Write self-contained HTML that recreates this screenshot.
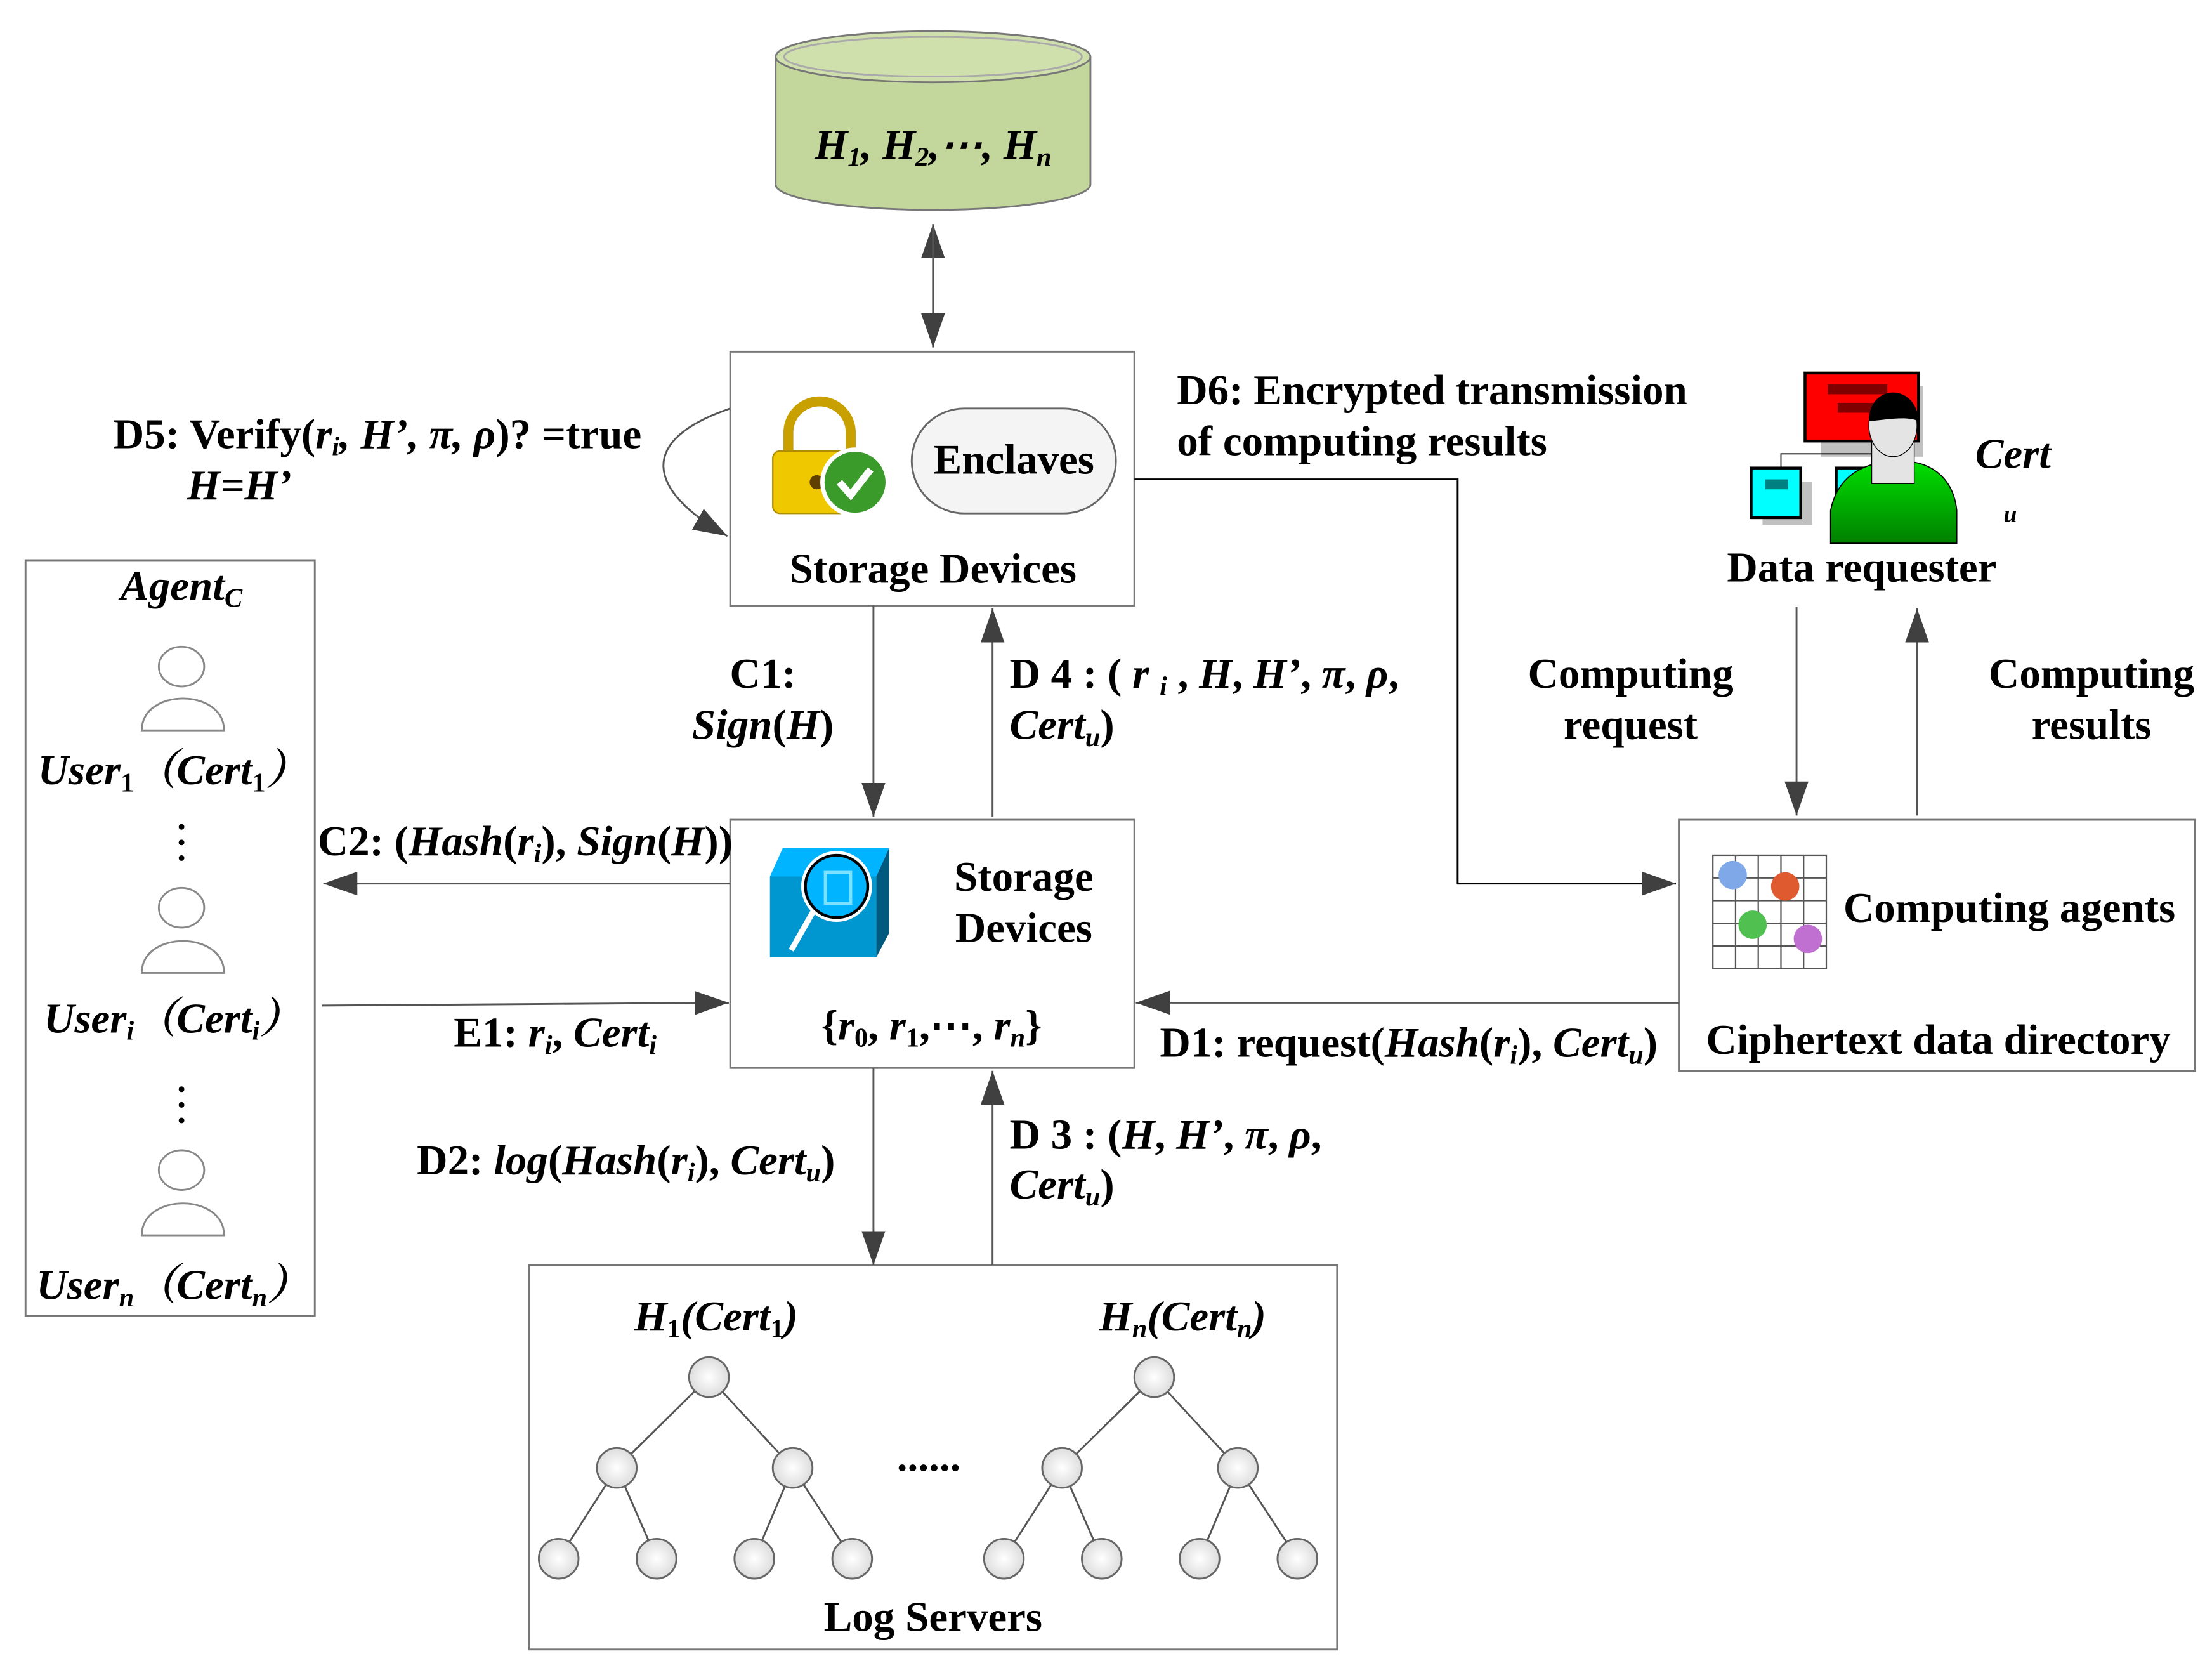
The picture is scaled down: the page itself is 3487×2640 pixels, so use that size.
<!DOCTYPE html>
<html><head><meta charset="utf-8"><style>html,body{margin:0;padding:0;background:#fff}svg{display:block}</style></head><body>
<svg width="3487" height="2640" viewBox="0 0 1560 1181" preserveAspectRatio="none" xmlns="http://www.w3.org/2000/svg" font-family="Liberation Serif, serif" font-weight="bold" font-size="30">
<defs>
<marker id="a" viewBox="0 0 10 10" refX="10" refY="5" markerWidth="24" markerHeight="24" markerUnits="userSpaceOnUse" orient="auto"><path d="M0,1.5 L10,5 L0,8.5 Z" fill="#404040"/></marker>
<linearGradient id="g" x1="0" y1="0" x2="0" y2="1"><stop offset="0" stop-color="#00e000"/><stop offset="1" stop-color="#008000"/></linearGradient>
<radialGradient id="cb"><stop offset="0" stop-color="#fff"/><stop offset="1" stop-color="#ddd"/></radialGradient>
</defs>
<g stroke="#555" stroke-width="1.3" fill="none">
<path d="M547,40 L547,130 A111,18 0 0 0 769,130 L769,40" fill="#c3d69b" stroke="#777"/>
<ellipse cx="658" cy="40" rx="111" ry="18" fill="#d0e0ad" stroke="#777"/>
<ellipse cx="658" cy="40" rx="105" ry="14" fill="none" stroke="#aaa"/>
<line x1="658" y1="165" x2="658" y2="158" marker-end="url(#a)"/>
<path d="M658,160 L658,245" marker-end="url(#a)"/>
<rect x="515" y="248" width="285" height="179" fill="#fff" stroke="#777"/>
<rect x="515" y="578" width="285" height="175" fill="#fff" stroke="#777"/>
<rect x="1184" y="578" width="364" height="177" fill="#fff" stroke="#777"/>
<rect x="18" y="395" width="204" height="533" fill="#fff" stroke="#777"/>
<rect x="373" y="892" width="570" height="271" fill="#fff" stroke="#777"/>
<path d="M515,288 C450,310 455,345 513,378" marker-end="url(#a)"/>
<path d="M800,338 L1028,338 L1028,623 L1182,623" stroke="#000" marker-end="url(#a)"/>
<path d="M1267,428 L1267,575" marker-end="url(#a)"/>
<path d="M1352,575 L1352,429" marker-end="url(#a)"/>
<path d="M616,427 L616,576" marker-end="url(#a)"/>
<path d="M700,576 L700,429" marker-end="url(#a)"/>
<path d="M515,623 L228,623" marker-end="url(#a)"/>
<path d="M227,709 L514,707" marker-end="url(#a)"/>
<path d="M1184,707 L801,707" marker-end="url(#a)"/>
<path d="M616,753 L616,892" marker-end="url(#a)"/>
<path d="M700,892 L700,755" marker-end="url(#a)"/>
<path d="M500,971 L435,1035 M500,971 L559,1035 M435,1035 L394,1099 M435,1035 L463,1099 M559,1035 L532,1099 M559,1035 L601,1099"/>
<path d="M814,971 L749,1035 M814,971 L873,1035 M749,1035 L708,1099 M749,1035 L777,1099 M873,1035 L846,1099 M873,1035 L915,1099"/>
<g fill="url(#cb)" stroke="#666">
<circle cx="500" cy="971" r="14"/><circle cx="435" cy="1035" r="14"/><circle cx="559" cy="1035" r="14"/>
<circle cx="394" cy="1099" r="14"/><circle cx="463" cy="1099" r="14"/><circle cx="532" cy="1099" r="14"/><circle cx="601" cy="1099" r="14"/>
<circle cx="814" cy="971" r="14"/><circle cx="749" cy="1035" r="14"/><circle cx="873" cy="1035" r="14"/>
<circle cx="708" cy="1099" r="14"/><circle cx="777" cy="1099" r="14"/><circle cx="846" cy="1099" r="14"/><circle cx="915" cy="1099" r="14"/>
</g>
<rect x="643" y="288" width="144" height="74" rx="37" fill="#f4f4f4" stroke="#666"/>
</g>
<path d="M556,320 L556,305 A22,22 0 0 1 600,305 L600,320" fill="none" stroke="#c8a000" stroke-width="7"/>
<rect x="545" y="318" width="66" height="44" rx="5" fill="#f0c800" stroke="#b08c00"/>
<circle cx="576" cy="340" r="5" fill="#604000"/>
<circle cx="603" cy="340" r="23" fill="#3a9a2a" stroke="#fff" stroke-width="3"/>
<path d="M592,340 L600,349 L614,331" stroke="#fff" stroke-width="5" fill="none"/>
<path d="M543,618 L552,598 L627,598 L618,618 Z" fill="#00b4ff"/>
<path d="M618,618 L627,598 L627,658 L618,675 Z" fill="#005a80"/>
<rect x="543" y="618" width="75" height="57" fill="#0096d0"/>
<line x1="558" y1="670" x2="575" y2="640" stroke="#fff" stroke-width="4"/>
<circle cx="590" cy="625" r="22" fill="#00b4ff" stroke="#000" stroke-width="2"/>
<circle cx="590" cy="625" r="24" fill="none" stroke="#fff" stroke-width="2"/>
<rect x="582" y="615" width="18" height="22" fill="none" stroke="#7fe0ff" stroke-width="2"/>
<rect x="1208" y="603" width="80" height="80" fill="#fff" stroke="#555"/>
<path d="M1224,603V683M1240,603V683M1256,603V683M1272,603V683M1208,619H1288M1208,635H1288M1208,651H1288M1208,667H1288" stroke="#555" stroke-width="1"/>
<circle cx="1222" cy="617" r="10" fill="#7fa8e8"/><circle cx="1259" cy="625" r="10" fill="#e05a30"/>
<circle cx="1236" cy="652" r="10" fill="#50c050"/><circle cx="1275" cy="662" r="10" fill="#c070d0"/>
<rect x="1284" y="272" width="72" height="50" fill="#c0c0c0"/>
<rect x="1273" y="263" width="80" height="48" fill="#f00" stroke="#000" stroke-width="2"/>
<rect x="1289" y="271" width="42" height="7" fill="#800000"/><rect x="1296" y="284" width="30" height="7" fill="#800000"/>
<path d="M1335,311V320H1256V330" fill="none" stroke="#000" stroke-width="0.8"/>
<rect x="1243" y="340" width="35" height="30" fill="#c0c0c0"/>
<rect x="1235" y="330" width="35" height="35" fill="#0ff" stroke="#000" stroke-width="2"/>
<rect x="1245" y="338" width="16" height="7" fill="#008080"/>
<rect x="1295" y="330" width="20" height="30" fill="#0ff" stroke="#000" stroke-width="2"/>
<path d="M1291,383 L1291,360 C1296,335 1315,325 1340,325 C1365,325 1378,340 1380,360 L1380,383 Z" fill="url(#g)" stroke="#000" stroke-width="0.8"/>
<rect x="1320" y="303" width="30" height="38" fill="#e4e4e4" stroke="#000" stroke-width="0.6"/>
<ellipse cx="1335" cy="300" rx="17" ry="22" fill="#e4e4e4" stroke="#000" stroke-width="0.6"/>
<path d="M1318,297 C1318,270 1352,270 1353,297 C1345,293 1330,296 1318,297 Z" fill="#000"/>
<g fill="#fff" stroke="#888" stroke-width="1.3">
<path d="M100,515 C100,485 158,485 158,515 Z"/><ellipse cx="128" cy="470" rx="16" ry="14"/>
<path d="M100,686 C100,656 158,656 158,686 Z"/><ellipse cx="128" cy="640" rx="16" ry="14"/>
<path d="M100,871 C100,841 158,841 158,871 Z"/><ellipse cx="128" cy="825" rx="16" ry="14"/>
</g>
<g fill="#000">
<text x="658" y="112" text-anchor="middle" font-style="italic">H<tspan font-size="19" dy="5">1</tspan><tspan dy="-5">, H</tspan><tspan font-size="19" dy="5">2</tspan><tspan dy="-5">,⋯, H</tspan><tspan font-size="19" dy="5">n</tspan></text>
<text x="715" y="334" text-anchor="middle">Enclaves</text>
<text x="658" y="411" text-anchor="middle">Storage Devices</text>
<text x="80" y="316">D5: Verify(<tspan font-style="italic">r<tspan font-size="19" dy="5">i</tspan><tspan dy="-5">, H’, π, ρ</tspan></tspan>)?  =true</text>
<text x="132" y="352" font-style="italic">H=H’</text>
<text x="830" y="285">D6: Encrypted transmission</text>
<text x="830" y="321">of computing results</text>
<text x="1393" y="330" font-style="italic">Cert</text>
<text x="1413" y="368" font-style="italic" font-size="17">u</text>
<text x="1313" y="410" text-anchor="middle">Data requester</text>
<text x="1150" y="485" text-anchor="middle">Computing</text>
<text x="1150" y="521" text-anchor="middle">request</text>
<text x="1475" y="485" text-anchor="middle">Computing</text>
<text x="1475" y="521" text-anchor="middle">results</text>
<text x="1300" y="650">Computing agents</text>
<text x="1367" y="743" text-anchor="middle">Ciphertext data directory</text>
<text x="538" y="485" text-anchor="middle">C1:</text>
<text x="538" y="521" text-anchor="middle" font-style="italic">Sign<tspan font-style="normal">(</tspan>H<tspan font-style="normal">)</tspan></text>
<text x="712" y="485">D 4 :  ( <tspan font-style="italic">r <tspan font-size="19" dy="5">i</tspan></tspan><tspan dy="-5"> ,  <tspan font-style="italic">H</tspan>,  <tspan font-style="italic">H’</tspan>,  <tspan font-style="italic">π</tspan>,  <tspan font-style="italic">ρ</tspan>,</tspan></text>
<text x="712" y="521"><tspan font-style="italic">Cert</tspan><tspan font-style="italic" font-size="19" dy="5">u</tspan><tspan dy="-5">)</tspan></text>
<text x="722" y="628" text-anchor="middle">Storage</text>
<text x="722" y="664" text-anchor="middle">Devices</text>
<text x="657" y="733" text-anchor="middle">{<tspan font-style="italic">r</tspan><tspan font-size="19" dy="5">0</tspan><tspan dy="-5">, </tspan><tspan font-style="italic">r</tspan><tspan font-size="19" dy="5">1</tspan><tspan dy="-5">,⋯, </tspan><tspan font-style="italic">r</tspan><tspan font-size="19" font-style="italic" dy="5">n</tspan><tspan dy="-5">}</tspan></text>
<text x="224" y="603">C2: (<tspan font-style="italic">Hash</tspan>(<tspan font-style="italic">r</tspan><tspan font-size="19" font-style="italic" dy="5">i</tspan><tspan dy="-5">), </tspan><tspan font-style="italic">Sign</tspan>(<tspan font-style="italic">H</tspan>))</text>
<text x="320" y="738">E1: <tspan font-style="italic">r</tspan><tspan font-size="19" font-style="italic" dy="5">i</tspan><tspan dy="-5">, </tspan><tspan font-style="italic">Cert</tspan><tspan font-size="19" font-style="italic" dy="5">i</tspan></text>
<text x="818" y="745">D1: request(<tspan font-style="italic">Hash</tspan>(<tspan font-style="italic">r</tspan><tspan font-size="19" font-style="italic" dy="5">i</tspan><tspan dy="-5">), </tspan><tspan font-style="italic">Cert</tspan><tspan font-size="19" font-style="italic" dy="5">u</tspan><tspan dy="-5">)</tspan></text>
<text x="294" y="828">D2: <tspan font-style="italic">log</tspan>(<tspan font-style="italic">Hash</tspan>(<tspan font-style="italic">r</tspan><tspan font-size="19" font-style="italic" dy="5">i</tspan><tspan dy="-5">), </tspan><tspan font-style="italic">Cert</tspan><tspan font-size="19" font-style="italic" dy="5">u</tspan><tspan dy="-5">)</tspan></text>
<text x="712" y="810">D 3 :   (<tspan font-style="italic">H</tspan>,  <tspan font-style="italic">H’</tspan>,  <tspan font-style="italic">π</tspan>,  <tspan font-style="italic">ρ</tspan>,</text>
<text x="712" y="845"><tspan font-style="italic">Cert</tspan><tspan font-style="italic" font-size="19" dy="5">u</tspan><tspan dy="-5">)</tspan></text>
<text x="128" y="423" text-anchor="middle" font-style="italic">Agent<tspan font-size="19" dy="5">C</tspan></text>
<text x="122" y="553" text-anchor="middle" font-style="italic">User<tspan font-size="19" font-style="normal" dy="5">1</tspan><tspan dy="-5" font-family="Noto Serif CJK SC, serif">（</tspan>Cert<tspan font-size="19" font-style="normal" dy="5">1</tspan><tspan dy="-5" font-family="Noto Serif CJK SC, serif">）</tspan></text>
<text x="122" y="728" text-anchor="middle" font-style="italic">User<tspan font-size="19" dy="5">i</tspan><tspan dy="-5" font-family="Noto Serif CJK SC, serif">（</tspan>Cert<tspan font-size="19" dy="5">i</tspan><tspan dy="-5" font-family="Noto Serif CJK SC, serif">）</tspan></text>
<text x="122" y="916" text-anchor="middle" font-style="italic">User<tspan font-size="19" dy="5">n</tspan><tspan dy="-5" font-family="Noto Serif CJK SC, serif">（</tspan>Cert<tspan font-size="19" dy="5">n</tspan><tspan dy="-5" font-family="Noto Serif CJK SC, serif">）</tspan></text>
<circle cx="128" cy="583" r="2"/><circle cx="128" cy="594" r="2"/><circle cx="128" cy="605" r="2"/>
<circle cx="128" cy="768" r="2"/><circle cx="128" cy="779" r="2"/><circle cx="128" cy="790" r="2"/>
<text x="505" y="938" text-anchor="middle" font-style="italic">H<tspan font-size="19" font-style="normal" dy="5">1</tspan><tspan dy="-5">(Cert</tspan><tspan font-size="19" font-style="normal" dy="5">1</tspan><tspan dy="-5">)</tspan></text>
<text x="834" y="938" text-anchor="middle" font-style="italic">H<tspan font-size="19" dy="5">n</tspan><tspan dy="-5">(Cert</tspan><tspan font-size="19" dy="5">n</tspan><tspan dy="-5">)</tspan></text>
<text x="655" y="1037" text-anchor="middle">......</text>
<text x="658" y="1150" text-anchor="middle">Log Servers</text>
</g>
</svg>
</body></html>
